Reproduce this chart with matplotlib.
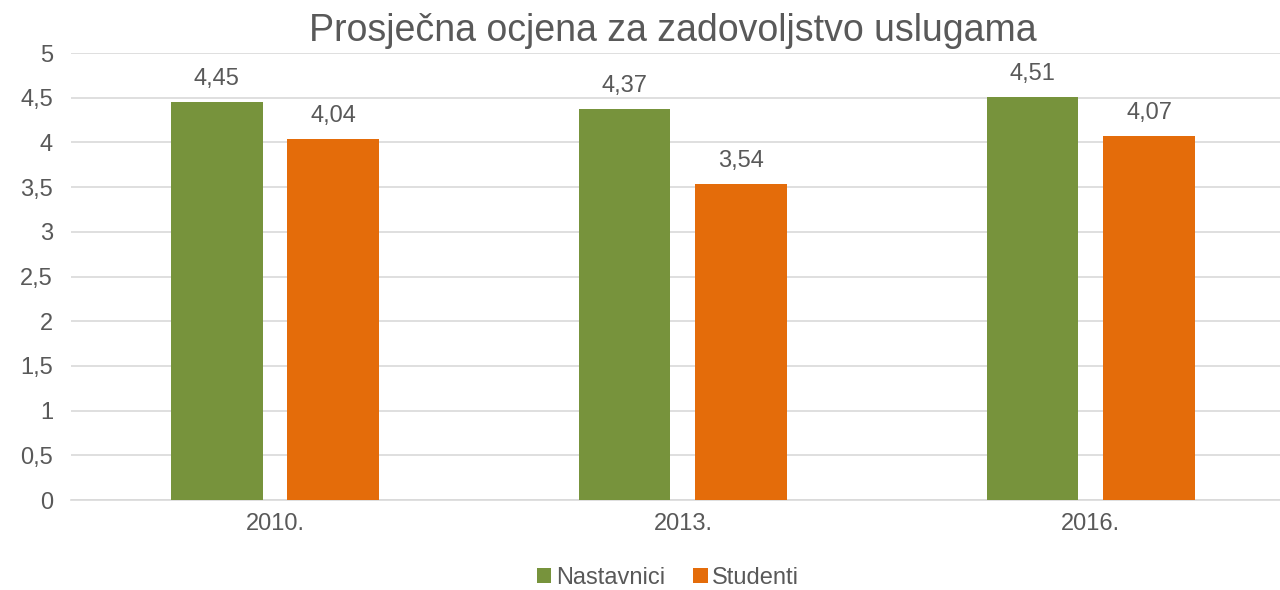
import matplotlib.pyplot as plt
import numpy as np

plt.rcParams['font.family'] = ['Liberation Sans', 'DejaVu Sans']

years = ['2010.', '2013.', '2016.']
nastavnici = [4.45, 4.37, 4.51]
studenti = [4.04, 3.54, 4.07]

green = '#77933C'
orange = '#E46C0A'
text_col = '#595959'

fig = plt.figure(figsize=(12.8, 5.9), dpi=100)
ax = fig.add_axes([0.0555, 0.1525, 0.956, 0.7575])

x = np.arange(len(years))
w = 0.225
off = 0.143
b1 = ax.bar(x - off, nastavnici, w, color=green, label='Nastavnici', zorder=3)
b2 = ax.bar(x + off, studenti, w, color=orange, label='Studenti', zorder=3)

# value labels above each bar, decimal comma
for bars, vals in ((b1, nastavnici), (b2, studenti)):
    for rect, v in zip(bars, vals):
        ax.text(rect.get_x() + rect.get_width() / 2, v + 0.19,
                f'{v:.2f}'.replace('.', ','), ha='center', va='baseline',
                fontsize=17, color=text_col)

ax.set_xlim(-0.5, 2.5)
ax.set_ylim(0, 5)
yt = np.arange(0, 5.01, 0.5)
ax.set_yticks(yt)
ax.set_yticklabels([f'{t:g}'.replace('.', ',') for t in yt])
ax.set_xticks(x)
ax.set_xticklabels(years)
ax.tick_params(axis='both', length=0, labelsize=17, colors=text_col)
ax.tick_params(axis='x', pad=9)
ax.tick_params(axis='y', pad=13)
ax.grid(axis='y', color='#D9D9D9', linewidth=1.2, zorder=0)
for s in ('top', 'right', 'left'):
    ax.spines[s].set_visible(False)
ax.spines['bottom'].set_color('#D9D9D9')
ax.spines['bottom'].set_linewidth(1.2)

fig.text(0.526, 0.978, 'Prosječna ocjena za zadovoljstvo uslugama',
         fontsize=27, color=text_col, ha='center', va='top')

fig.legend(handles=[b1, b2], loc='center', bbox_to_anchor=(0.522, 0.02),
           ncol=2, frameon=False, fontsize=17, labelcolor=text_col,
           handlelength=0.6, handleheight=0.6, handletextpad=0.2,
           columnspacing=1.2)

fig.savefig('out.png', dpi=100)
